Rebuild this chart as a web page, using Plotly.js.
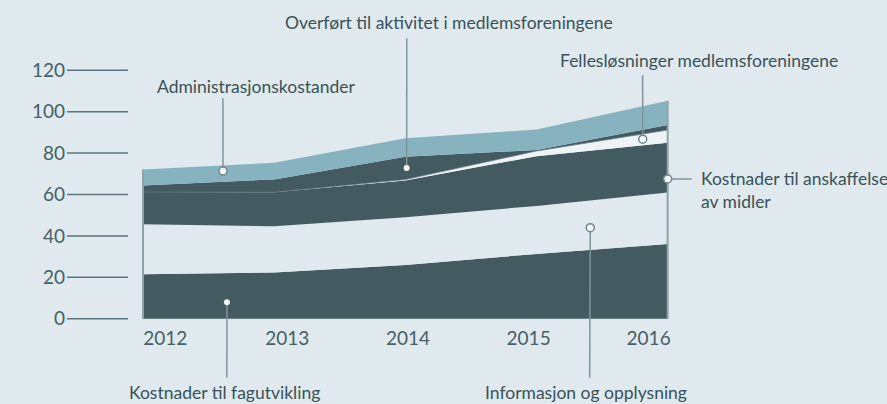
<!DOCTYPE html>
<html>
<head>
<meta charset="utf-8">
<script src="https://cdn.plot.ly/plotly-3.0.1.min.js"></script>
<style>
  html, body { margin: 0; padding: 0; background: #dfe9ee; }
  #chart { width: 887px; height: 404px; }
</style>
</head>
<body>
<div id="chart"></div>
<script>
// ---- data ----
const years = [2012, 2013, 2014, 2015, 2016];
const fagutvikling   = [21.5, 22.3, 26.0, 31.3, 36.1];
const informasjon    = [24.1, 22.4, 23.0, 23.2, 24.9];
const anskaffelse    = [15.6, 16.4, 17.8, 24.0, 24.0];
const fellesLosning  = [0.0, 0.0, 0.4, 2.5, 6.1];
const overfort       = [3.2, 6.2, 11.0, 0.5, 2.4];
const administrasjon = [7.7, 8.0, 8.9, 9.9, 11.7];

const yTickVals = [0, 20, 40, 60, 80, 100, 120];
const xTickText = ['2012', '2013', '2014', '2015', '2016'];

// ---- styles ----
const BG = '#dfe9ee';
const DARK = '#435b60';
const LIGHTBLUE = '#87b3c1';
const WHITEISH = '#eef4f6';
const TEXT = '#3a5257';
const LEADER = '#7f969c';
const FONT = 'Lato, "Open Sans", sans-serif';

// axis ranges and margins (pixel geometry)
const xr = [2011.413, 2016.3];
const yr = [-3, 123];
const M = {l: 66, r: 179.6, t: 63.8, b: 78.8};
const W = 887, H = 404;
const pw = W - M.l - M.r, ph = H - M.t - M.b;
const pxX = px => (px - M.l) / pw;             // pixel -> paper
const pxY = py => (H - M.b - py) / ph;
const dX = x => M.l + (x - xr[0]) / (xr[1] - xr[0]) * pw; // data -> pixel
const dY = y => H - M.b - (y - yr[0]) / (yr[1] - yr[0]) * ph;

// label tick positions (labels are offset from the data columns in the design)
const xTickPos = [2012.17, 2013.10, 2014.02, 2014.94, 2015.855];

const series = [
  {name: 'Kostnader til fagutvikling', y: fagutvikling, color: DARK},
  {name: 'Informasjon og opplysning', y: informasjon, color: BG},
  {name: 'Kostnader til anskaffelse av midler', y: anskaffelse, color: DARK},
  {name: 'Fellesløsninger medlemsforeningene', y: fellesLosning, color: WHITEISH, line: '#647c81'},
  {name: 'Overført til aktivitet i medlemsforeningene', y: overfort, color: DARK},
  {name: 'Administrasjonskostander', y: administrasjon, color: LIGHTBLUE}
];

const traces = series.map((s, i) => ({
  type: 'scatter', mode: 'lines', x: years, y: s.y, name: s.name,
  stackgroup: 'one', fill: i === 0 ? 'tozeroy' : 'tonexty',
  fillcolor: s.color,
  line: {width: s.line ? 0.7 : 0, color: s.line || s.color},
  hoverinfo: 'skip', showlegend: false
}));

const totals = years.map((_, i) => series.reduce((a, s) => a + s.y[i], 0));

const shapes = [];
// short grid segments left of the chart
yTickVals.forEach(v => shapes.push({
  type: 'line', xref: 'paper', yref: 'y', x0: pxX(67), x1: pxX(128), y0: v, y1: v,
  line: {color: '#5b737a', width: 1.5}, layer: 'above'
}));
// edge lines at first and last year
[0, years.length - 1].forEach(i => shapes.push({
  type: 'line', xref: 'x', yref: 'y', x0: years[i], x1: years[i], y0: 0, y1: totals[i],
  line: {color: '#8fa4a9', width: 2}, layer: 'above'
}));

// callouts: dot (data coords), leader line end (pixels), text
const callouts = [
  {dot: [2012.61, 71.3], ring: true,  line: [[223, 98]],  text: 'Administrasjonskostander', tx: 257, ty: 86, align: 'center'},
  {dot: [2014.01, 72.8], ring: false, line: [[407, 38]],  text: 'Overført til aktivitet i medlemsforeningene', tx: 449, ty: 22, align: 'center'},
  {dot: [2015.81, 86.7], ring: true,  line: [[643, 75]],  text: 'Fellesløsninger medlemsforeningene', tx: 699, ty: 60, align: 'center'},
  {dot: [2016.0, 67.5],  ring: true,  line: [[692, 179]], text: 'Kostnader til anskaffelse<br>av midler', tx: 699, ty: 190, align: 'left'},
  {dot: [2015.41, 44.0], ring: true,  line: [[590, 378]], text: 'Informasjon og opplysning', tx: 586, ty: 393, align: 'center'},
  {dot: [2012.64, 8.0],  ring: false, line: [[227, 378]], text: 'Kostnader til fagutvikling', tx: 225, ty: 393, align: 'center'}
];

const annotations = [];
callouts.forEach(c => {
  const dpx = dX(c.dot[0]), dpy = dY(c.dot[1]);
  const end = c.line[0];
  shapes.push({
    type: 'line', xref: 'paper', yref: 'paper',
    x0: pxX(dpx), y0: pxY(dpy), x1: pxX(end[0]), y1: pxY(end[1]),
    line: {color: LEADER, width: 1.5}, layer: 'above'
  });
  const r = c.ring ? 4 : 3;
  shapes.push({
    type: 'circle', xref: 'x', yref: 'y', xsizemode: 'pixel', ysizemode: 'pixel',
    xanchor: c.dot[0], yanchor: c.dot[1], x0: -r, x1: r, y0: -r, y1: r,
    fillcolor: '#f2f6f7',
    line: {color: c.ring ? '#6f878d' : '#f2f6f7', width: c.ring ? 1.5 : 0}, layer: 'above'
  });
  annotations.push({
    xref: 'paper', yref: 'paper', x: pxX(c.tx), y: pxY(c.ty),
    xanchor: c.align === 'left' ? 'left' : 'center', yanchor: 'middle', align: c.align,
    text: c.text, showarrow: false,
    font: {family: FONT, size: 17.5, color: TEXT}
  });
});

const layout = {
  width: W, height: H,
  margin: M,
  paper_bgcolor: BG, plot_bgcolor: BG,
  showlegend: false,
  xaxis: {
    range: xr, tickvals: xTickPos, ticktext: xTickText,
    showgrid: false, zeroline: false, showline: false, ticks: '',
    tickfont: {family: FONT, size: 19, color: '#465f64'}
  },
  yaxis: {
    range: yr, tickvals: yTickVals,
    showgrid: false, zeroline: false, showline: false, ticks: '',
    tickfont: {family: FONT, size: 19, color: '#465f64'}
  },
  shapes: shapes,
  annotations: annotations
};

Plotly.newPlot('chart', traces, layout, {displayModeBar: false, staticPlot: true});
</script>
</body>
</html>
